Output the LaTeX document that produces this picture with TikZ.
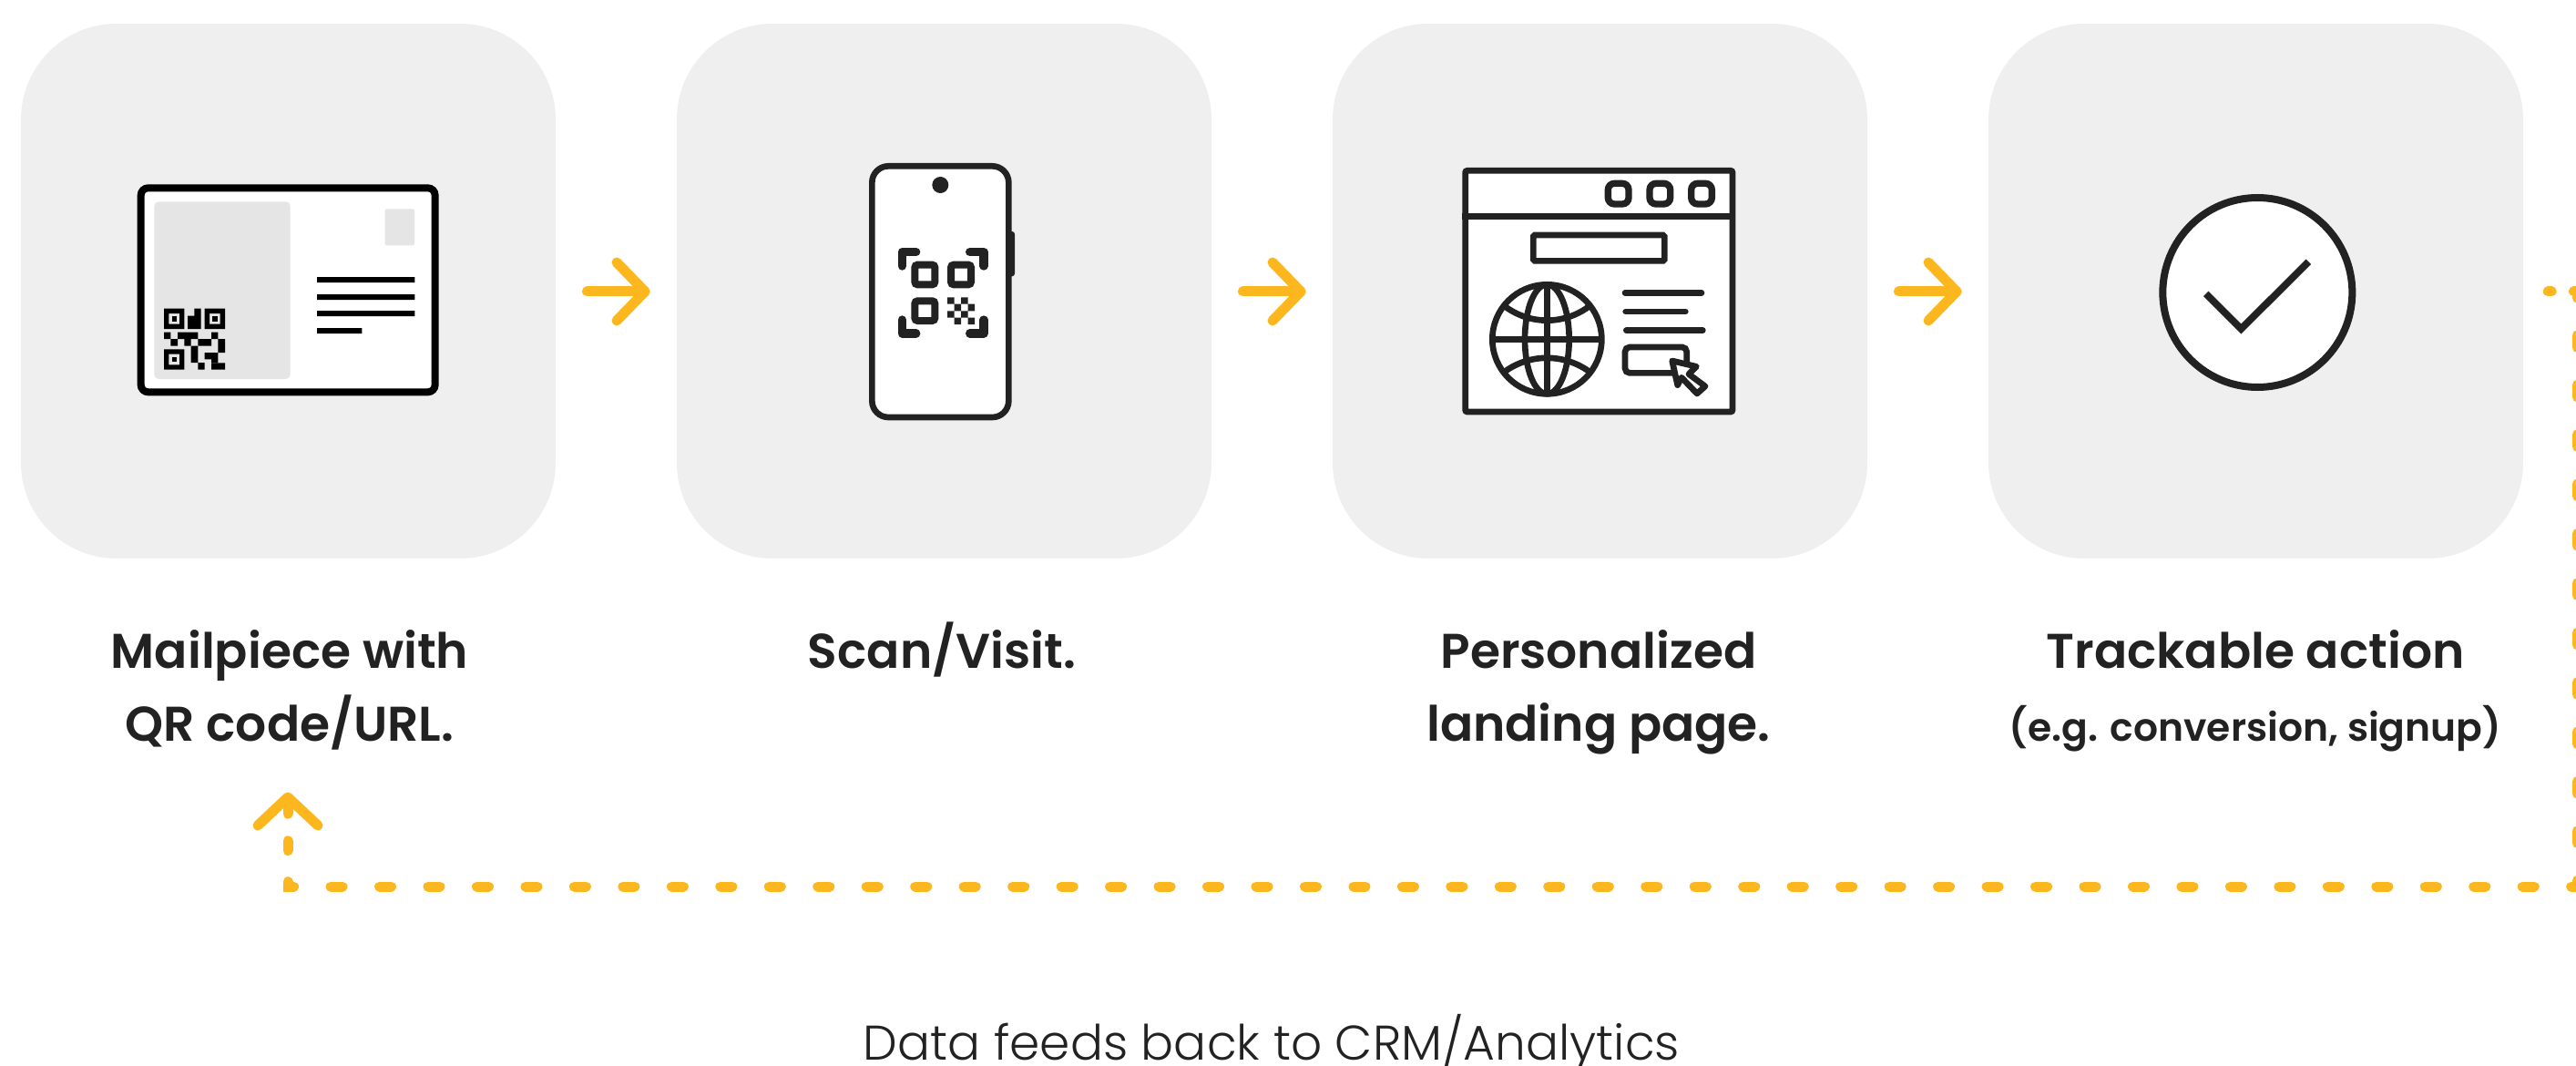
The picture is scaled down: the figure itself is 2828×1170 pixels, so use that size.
\documentclass[tikz,border=0pt]{standalone}
\usepackage{fontspec}
\setmainfont{Poppins}
\newfontfamily\semib{Poppins SemiBold}
\newfontfamily\lightf{Poppins Light}
\definecolor{ink}{HTML}{222222}
\definecolor{panel}{HTML}{EFEFEF}
\definecolor{soft}{HTML}{E5E5E5}
\definecolor{amber}{HTML}{FDB71E}
\tikzset{
  panelbox/.style={fill=panel,draw=none,rounded corners=52.5pt},
  caption/.style={font=\semib\fontsize{26.75}{40}\selectfont,text=ink,align=center,inner sep=0pt,anchor=base},
  subcap/.style={font=\semib\fontsize{21.2}{30}\selectfont,text=ink,align=center,inner sep=0pt,anchor=base},
  flow/.style={draw=amber,line width=5.5pt,line cap=round,line join=round},
  back/.style={draw=amber,line width=5.5pt,line cap=round,line join=miter},
  ic/.style={draw=ink,line width=3.33pt,fill=white},
  icline/.style={draw=ink,line width=3.33pt},
  zoomed/.style={x=0.16667pt,y=-0.16667pt},
}
\begin{document}
\begin{tikzpicture}[x=0.5pt,y=-0.5pt]
\useasboundingbox (0,0) rectangle (2828,1170);
% panels
\path[panelbox] (23,26) rectangle (610,613);
\path[panelbox] (743,26) rectangle (1330,613);
\path[panelbox] (1463,26) rectangle (2050,613);
\path[panelbox] (2183,26) rectangle (2770,613);
% postcard
\begin{scope}[shift={(100,150)},zoomed]
\draw[draw=black,fill=white,line width=4pt,rounded corners=4pt] (164,169) rectangle (1133,841);
\fill[soft,rounded corners=2.5pt] (208,214) rectangle (656,798);
\fill[soft,rounded corners=1pt] (968,238) rectangle (1065,358);
\fill[black] (744,462) rectangle (1066,480) (744,519) rectangle (1066,537) (744,573) rectangle (1066,591) (744,630) rectangle (892,648);
\fill[black,even odd rule] (240,566) rectangle (307,633) (256,582) rectangle (291,617);
\fill[black] (266,592) rectangle (282,608);
\fill[black,even odd rule] (374,566) rectangle (441,633) (390,582) rectangle (425,617);
\fill[black] (400,592) rectangle (416,608);
\fill[black,even odd rule] (240,700) rectangle (307,767) (256,716) rectangle (291,751);
\fill[black] (266,726) rectangle (282,742);
\fill[black] (340,566) rectangle (362,633) (318,590) rectangle (362,633);
\fill[black] (240,644) rectangle (262,666) (285,644) rectangle (352,666) (396,644) rectangle (418,666);
\fill[black] (262,666) rectangle (285,689) (307,666) rectangle (329,689) (352,666) rectangle (396,689) (418,666) rectangle (441,711);
\fill[black] (329,689) rectangle (352,744) (374,711) rectangle (418,733) (396,733) rectangle (418,745);
\fill[black] (352,744) rectangle (374,767) (396,745) rectangle (441,767);
\end{scope}
% phone
\begin{scope}[shift={(900,150)},zoomed]
\fill[ink,rounded corners=1.5pt] (615,312) rectangle (642,460);
\draw[ic,rounded corners=9pt] (172,97) rectangle (622,924);
\fill[ink] (397,159) circle[radius=27];
\draw[draw=ink,line width=4.67pt,line cap=round,line join=round]
  (271,426) -- (271,380) -- (317,380)
  (494,380) -- (540,380) -- (540,426)
  (271,603) -- (271,648) -- (317,648)
  (494,648) -- (540,648) -- (540,603);
\draw[draw=ink,line width=4pt,rounded corners=1.5pt] (313,422) rectangle (379,487);
\draw[draw=ink,line width=4pt,rounded corners=1.5pt] (432,422) rectangle (498,487);
\draw[draw=ink,line width=4pt,rounded corners=1.5pt] (313,541) rectangle (379,606);
\fill[ink] (420,529) rectangle (442.5,551) (465,529) rectangle (487.5,551)
  (442.5,551) rectangle (465,574) (487.5,551) rectangle (510,574)
  (420,574) rectangle (442.5,596) (465,574) rectangle (487.5,596)
  (442.5,596) rectangle (465,618) (487.5,596) rectangle (510,618);
\end{scope}
% browser
\begin{scope}[shift={(1570,150)},zoomed]
\draw[ic,rounded corners=1pt] (116,112) rectangle (996,906);
\draw[icline] (106,263) -- (1006,263);
\draw[icline,line width=3.67pt,rounded corners=3.5pt] (586,154) rectangle (654,222);
\draw[icline,line width=3.67pt,rounded corners=3.5pt] (723,154) rectangle (791,222);
\draw[icline,line width=3.67pt,rounded corners=3.5pt] (860,154) rectangle (928,222);
\draw[icline,rounded corners=0.8pt] (340,324) rectangle (772,409);
\draw[icline] (385,667) circle[radius=180];
\draw[icline] (385,667) ellipse[x radius=73,y radius=180];
\draw[icline] (385,487) -- (385,847) (205,667) -- (565,667);
\draw[icline] (248,560) .. controls (330,620) and (440,620) .. (522,560);
\draw[icline] (248,772) .. controls (330,714) and (440,714) .. (522,772);
\draw[icline,line cap=round] (642,514) -- (894,514) (644,576) -- (841,576) (646,638) -- (898,638);
\draw[icline,rounded corners=2.5pt] (642,693) rectangle (845,778);
\draw[ic,line join=round] (797,738) -- (877,757) -- (852,782) -- (906,822) -- (879,846) -- (828,793) -- (815,818) -- cycle;
\end{scope}
% check
\begin{scope}[shift={(2340,190)},zoomed]
\draw[ic,line width=4pt] (415,393) circle[radius=312];
\draw[draw=ink,line width=3.9pt,line join=miter] (245,397) -- (361,513) -- (583,292);
\end{scope}
% flow arrows
\node[inner sep=0pt,minimum size=0pt] (b1) at (610,320) {};
\node[inner sep=0pt,minimum size=0pt] (b2) at (1330,320) {};
\node[inner sep=0pt,minimum size=0pt] (b3) at (2050,320) {};
\foreach \n in {b1,b2,b3}{
  \coordinate (s) at ([xshift=17.25pt]\n);
  \coordinate (e) at ([xshift=49pt]\n);
  \draw[flow] (s) -- (e);
  \draw[flow] ([shift={(-31,-32)}]e) -- (e) -- ([shift={(-31,32)}]e);
}
% feedback
\coordinate (fbs) at (2797.2,320);
\coordinate (fbt) at (2829,320);
\coordinate (fbb) at (2829,973);
\coordinate (fbl) at (316,973);
\coordinate (fbu) at (316,967.7);
\coordinate (fbv) at (316,933.5);
\coordinate (tip) at (316,875);
\draw[back,dash pattern=on 2pt off 12.15pt on 2pt off 20pt] (fbs) -- (fbt);
\draw[back,dash pattern=on 6.5pt off 20.7pt,dash phase=3.1pt] (fbt) -- (fbb);
\draw[back,dash pattern=on 6.5pt off 20.235pt,dash phase=3.35pt] (fbb) -- (fbl) -- (fbu);
\draw[back,dash pattern=on 5.35pt off 14.8pt] (fbv) -- (tip);
\draw[flow] (283,906) -- (tip) -- (349,906);
% captions
\node[caption] (c1) at (318,813.3) {Mailpiece with\\QR code/URL.};
\node[caption] (c2) at (1034,733.3) {Scan/Visit.};
\node[caption] (c3) at (1755,813.3) {Personalized\\landing page.};
\node[caption] (c4) at (2476,733.3) {Trackable action};
\node[subcap] (c5) at (2476,813.3) {(e.g. conversion, signup)};
\node[font=\lightf\fontsize{26.7}{30}\selectfont,text=ink,inner sep=0pt,anchor=base] (c6) at (1396,1163) {Data feeds back to CRM/Analytics};
\end{tikzpicture}
\end{document}
